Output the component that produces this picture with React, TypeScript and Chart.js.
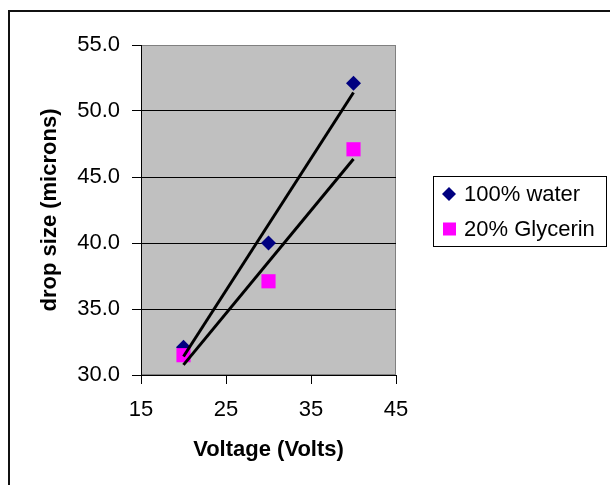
import React, { useEffect, useRef } from "react";
import { Chart, registerables } from "chart.js";

Chart.register(...registerables);

const voltage = [20, 30, 40];
const water = [32.1, 40.0, 52.1];
const glycerin = [31.5, 37.1, 47.1];
const seriesNames = ["100% water", "20% Glycerin"];
const xTicks = [15, 25, 35, 45];
const yTicks = [30, 35, 40, 45, 50, 55];

const FONT = "'Liberation Sans', Arial, sans-serif";
const WATER_COLOR = "#000080";
const GLY_COLOR = "#FF00FF";

function trend(xs: number[], ys: number[]) {
  const n = xs.length;
  const mx = xs.reduce((a, b) => a + b, 0) / n;
  const my = ys.reduce((a, b) => a + b, 0) / n;
  let num = 0;
  let den = 0;
  for (let i = 0; i < n; i++) {
    num += (xs[i] - mx) * (ys[i] - my);
    den += (xs[i] - mx) * (xs[i] - mx);
  }
  const slope = num / den;
  const x0 = Math.min(...xs);
  const x1 = Math.max(...xs);
  return [
    { x: x0, y: my + slope * (x0 - mx) },
    { x: x1, y: my + slope * (x1 - mx) },
  ];
}

const framePlugin = {
  id: "frame",
  beforeDraw(chart: any) {
    const { ctx, chartArea } = chart;
    ctx.save();
    ctx.fillStyle = "#ffffff";
    ctx.fillRect(0, 0, chart.width, chart.height);
    // outer border (left/top visible)
    ctx.fillStyle = "#111111";
    ctx.fillRect(8, 10, 2, chart.height);
    ctx.fillRect(8, 10, chart.width, 2);
    // plot area
    ctx.fillStyle = "#C0C0C0";
    ctx.fillRect(chartArea.left, chartArea.top, chartArea.right - chartArea.left, chartArea.bottom - chartArea.top);
    ctx.strokeStyle = "#808080";
    ctx.lineWidth = 1;
    ctx.strokeRect(chartArea.left + 0.5, chartArea.top + 0.5, chartArea.right - chartArea.left - 1, chartArea.bottom - chartArea.top - 1);
    ctx.restore();
  },
  afterDraw(chart: any) {
    const { ctx } = chart;
    ctx.save();
    // legend box
    const bx = 433, by = 176, bw = 173, bh = 70;
    ctx.strokeStyle = "#000000";
    ctx.lineWidth = 1;
    ctx.strokeRect(bx + 0.5, by + 0.5, bw, bh);
    ctx.font = `22px ${FONT}`;
    ctx.textBaseline = "middle";
    ctx.textAlign = "left";
    const rows = [194, 229];
    // diamond
    ctx.fillStyle = WATER_COLOR;
    ctx.beginPath();
    ctx.moveTo(449, rows[0] - 7);
    ctx.lineTo(456, rows[0]);
    ctx.lineTo(449, rows[0] + 7);
    ctx.lineTo(442, rows[0]);
    ctx.closePath();
    ctx.fill();
    // square
    ctx.fillStyle = GLY_COLOR;
    ctx.fillRect(443, rows[1] - 6.5, 13, 13);
    ctx.fillStyle = "#000000";
    ctx.fillText(seriesNames[0], 464, rows[0] + 1);
    ctx.fillText(seriesNames[1], 464, rows[1] + 1);
    ctx.restore();
  },
};

export default function App() {
  const ref = useRef<HTMLCanvasElement | null>(null);
  useEffect(() => {
    if (!ref.current) return;
    const chart = new Chart(ref.current, {
      type: "scatter",
      data: {
        datasets: [
          {
            label: "trend water",
            data: trend(voltage, water),
            showLine: true,
            borderColor: "#000000",
            borderWidth: 3,
            pointRadius: 0,
            order: 0,
          },
          {
            label: "trend glycerin",
            data: trend(voltage, glycerin),
            showLine: true,
            borderColor: "#000000",
            borderWidth: 3,
            pointRadius: 0,
            order: 0,
          },
          {
            label: seriesNames[0],
            data: voltage.map((x, i) => ({ x, y: water[i] })),
            pointStyle: "rectRot",
            pointRadius: 7.5,
            backgroundColor: WATER_COLOR,
            borderColor: WATER_COLOR,
            borderWidth: 0,
            order: 2,
          },
          {
            label: seriesNames[1],
            data: voltage.map((x, i) => ({ x, y: glycerin[i] })),
            pointStyle: "rect",
            pointRadius: 10,
            backgroundColor: GLY_COLOR,
            borderColor: GLY_COLOR,
            borderWidth: 0,
            order: 1,
          },
        ],
      },
      options: {
        responsive: false,
        animation: false,
        layout: { padding: { left: 0, top: 45, right: 214, bottom: 0 } },
        plugins: { legend: { display: false }, tooltip: { enabled: false } },
        scales: {
          x: {
            type: "linear",
            min: xTicks[0],
            max: xTicks[xTicks.length - 1],
            afterBuildTicks: (s: any) => {
              s.ticks = xTicks.map((v) => ({ value: v }));
            },
            afterFit: (s: any) => {
              s.height = 110;
            },
            ticks: {
              font: { family: FONT, size: 22 },
              color: "#000000",
              padding: 13,
              maxRotation: 0,
            },
            grid: {
              drawOnChartArea: false,
              tickLength: 9,
              tickColor: "#000000",
              color: "#000000",
            },
            border: { color: "#000000", width: 1 },
            title: {
              display: true,
              text: "Voltage (Volts)",
              font: { family: FONT, size: 22, weight: "bold" },
              color: "#000000",
              padding: { top: 0, bottom: 22 },
            },
          },
          y: {
            type: "linear",
            min: yTicks[0],
            max: yTicks[yTicks.length - 1],
            afterBuildTicks: (s: any) => {
              s.ticks = yTicks.map((v) => ({ value: v }));
            },
            afterFit: (s: any) => {
              s.width = 141;
            },
            ticks: {
              font: { family: FONT, size: 22 },
              color: "#000000",
              padding: 12,
              callback: (v: any) => Number(v).toFixed(1),
            },
            grid: {
              tickLength: 9,
              tickColor: "#000000",
              color: (c: any) => (c.tick && c.tick.value === yTicks[yTicks.length - 1] ? "#808080" : "#000000"),
            },
            border: { color: "#000000", width: 1 },
            title: {
              display: true,
              text: "drop size (microns)",
              font: { family: FONT, size: 22, weight: "bold" },
              color: "#000000",
              padding: { top: 37, bottom: 0 },
            },
          },
        },
      },
      plugins: [framePlugin],
    });
    return () => chart.destroy();
  }, []);
  return (
    <div style={{ position: "absolute", left: 0, top: 0, width: 610, height: 485 }}>
      <canvas ref={ref} width={610} height={485} />
    </div>
  );
}
